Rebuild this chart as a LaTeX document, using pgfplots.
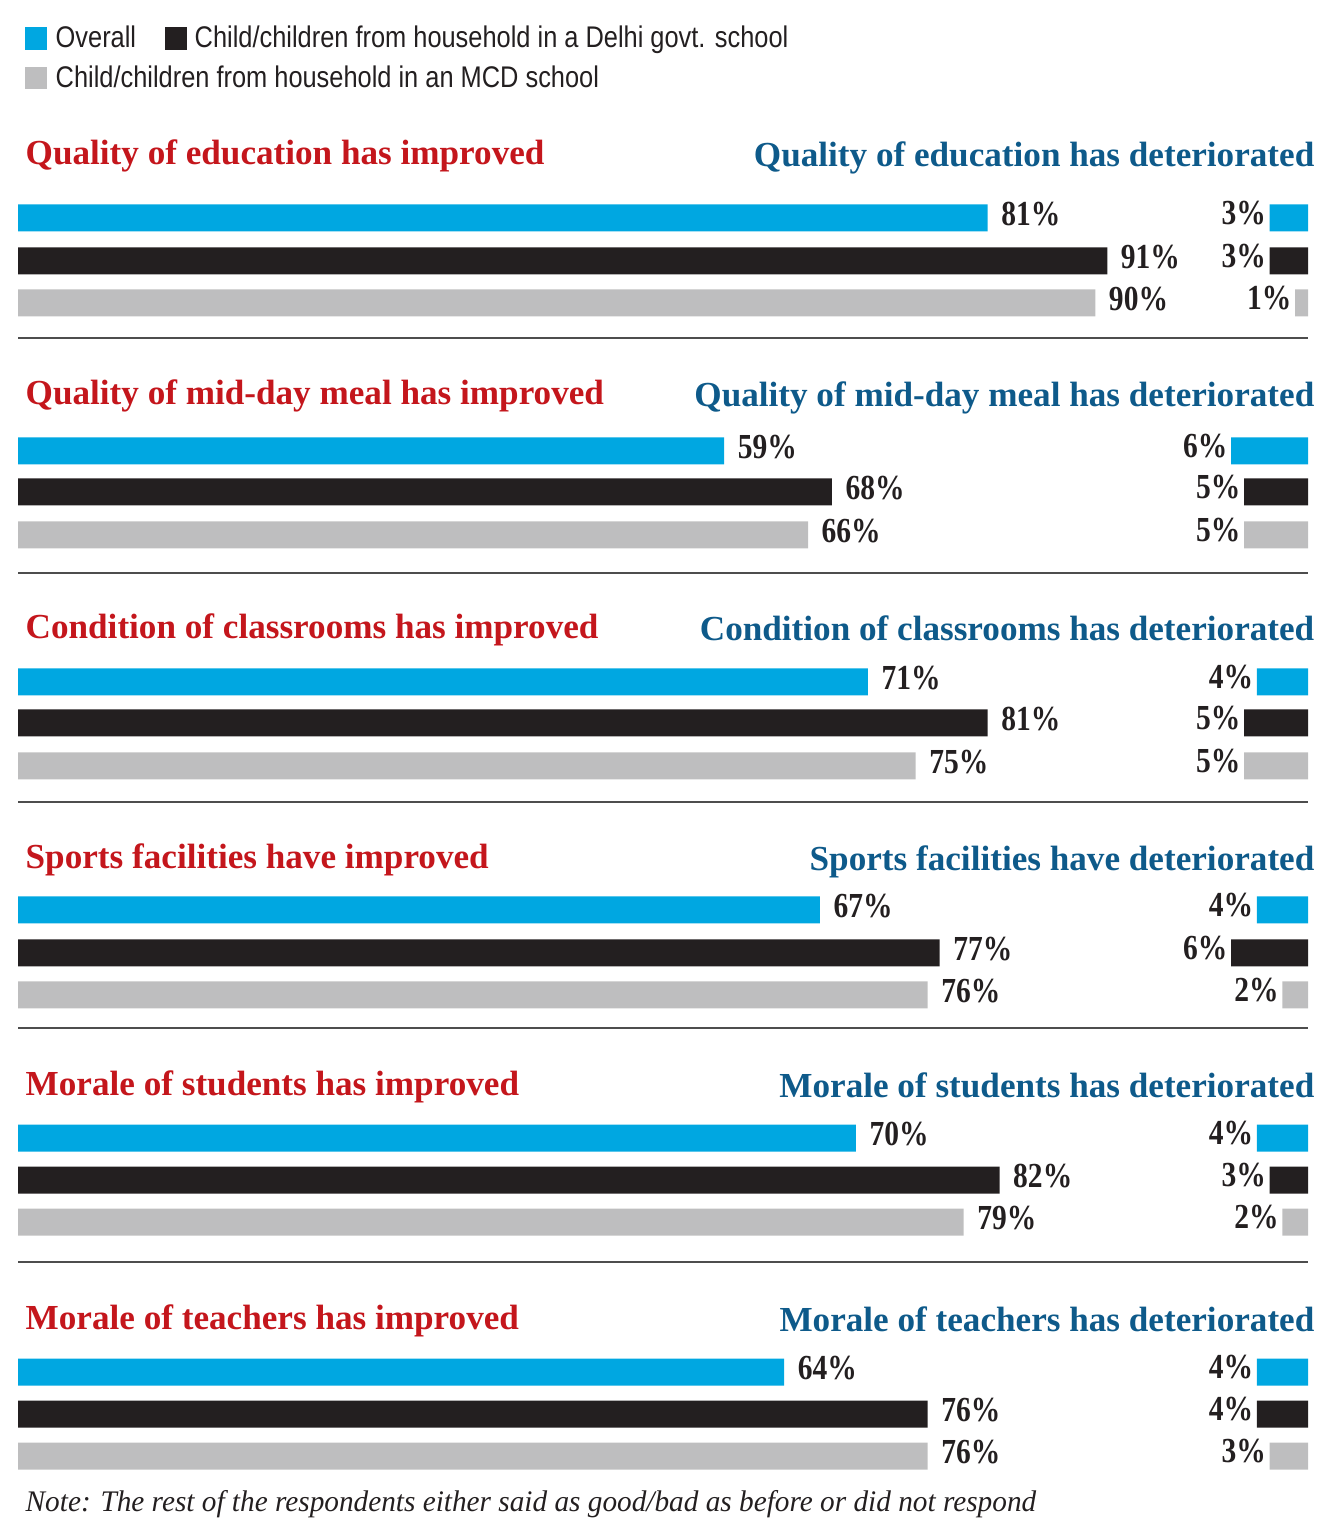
\documentclass[border=0pt]{standalone}
\usepackage{pgfplots}
\usepackage{pgfplotstable}
\pgfplotsset{compat=1.18}
\usepackage{fontspec}
\setmainfont{Liberation Serif}
\newfontfamily\legfont{Liberation Sans}[FakeStretch=0.85]
\newfontfamily\notefont{Liberation Serif}[FakeStretch=0.98]
\newfontfamily\labfont{Liberation Serif}[FakeStretch=0.84]

\definecolor{cBlue}{HTML}{00A7E1}
\definecolor{cBlack}{HTML}{231F20}
\definecolor{cGray}{HTML}{BEBEBF}
\definecolor{cRed}{HTML}{C4161C}
\definecolor{cNavy}{HTML}{0E5A8A}
\definecolor{cSep}{HTML}{4D4D4D}

% pos = vertical position of the bar (0 = top of the chart), imp = improved, det = deteriorated
\pgfplotstableread{
pos  imp det
218  81  3
451  59  6
682  71  4
910  67  4
1138 70  4
1372 64  4
}\overall
\pgfplotstableread{
pos  imp det
261  91  3
492  68  5
723  81  5
953  77  6
1180 82  3
1414 76  4
}\delhi
\pgfplotstableread{
pos  imp det
303  90  1
535  66  5
766  75  5
995  76  2
1222 79  2
1456 76  3
}\mcd

\pgfplotsset{
  panel/.style={
    hide axis, scale only axis,
    width=132.2mm, height=152.9mm,
    at={(0,0)}, anchor=south west,
    ymin=0, ymax=1529, y dir=reverse,
    clip=false, xbar, bar width=27,
    /pgf/number format/assume math mode=true,
    nodes near coords={\pgfmathprintnumber{\pgfplotspointmeta}\%},
    every node near coord/.append style={font=\labfont\bfseries\fontsize{10}{12}\selectfont, text=cBlack, inner xsep=0.3mm},
  },
}

\begin{document}
\begin{tikzpicture}
\begin{axis}[panel, xmin=-1.504, xmax=108.94,
  every node near coord/.append style={xshift=1.0mm, yshift=0.4mm}]
  \addplot[fill=cBlue, draw=none, bar shift=0pt] table[x=imp, y=pos] {\overall};
  \addplot[fill=cBlack, draw=none, bar shift=0pt] table[x=imp, y=pos] {\delhi};
  \addplot[fill=cGray, draw=none, bar shift=0pt] table[x=imp, y=pos] {\mcd};
  \coordinate (TL) at (axis description cs:0,1);
\end{axis}
\begin{axis}[panel, x dir=reverse, xmin=-1.094, xmax=102.19,
  nodes near coords align={anchor=east},
  every node near coord/.append style={yshift=0.5mm}]
  \addplot[fill=cBlue, draw=none, bar shift=0pt] table[x=det, y=pos] {\overall};
  \addplot[fill=cBlack, draw=none, bar shift=0pt] table[x=det, y=pos] {\delhi};
  \addplot[fill=cGray, draw=none, bar shift=0pt] table[x=det, y=pos] {\mcd};
\end{axis}

\begin{scope}[shift={(TL)}, x=0.1mm, y=-0.1mm]
  \path (0,0) rectangle (1322,1529);
  % legend
  \begin{scope}[every node/.style={anchor=base west, inner sep=0, text=cBlack,
      font=\legfont\fontsize{8.5}{10}\selectfont}]
    \fill[cBlue] (25,27) rectangle (47,50);
    \node at (55,48) {Overall};
    \fill[cBlack] (165,27) rectangle (187,50);
    \node at (194,48) {Child/children from household in a Delhi govt. school};
    \fill[cGray] (25,67) rectangle (47,89);
    \node at (55,88) {Child/children from household in an MCD school};
  \end{scope}
  % panel headings
  \begin{scope}[every node/.style={inner sep=0, font=\bfseries\fontsize{10}{12}\selectfont}]
    \foreach \yb/\a/\b in {
      165/Quality of education has improved/Quality of education has deteriorated,
      405/Quality of mid-day meal has improved/Quality of mid-day meal has deteriorated,
      639/Condition of classrooms has improved/Condition of classrooms has deteriorated,
      869/Sports facilities have improved/Sports facilities have deteriorated,
      1096/Morale of students has improved/Morale of students has deteriorated,
      1330/Morale of teachers has improved/Morale of teachers has deteriorated} {
      \node[anchor=base west, text=cRed] at (25,\yb) {\a};
      \node[anchor=base east, text=cNavy] at (1315,\yb+2) {\b};
    }
  \end{scope}
  % separators
  \foreach \ys in {338,573,802,1028,1262}
    \draw[cSep, line width=0.25mm] (18,\ys) -- (1308,\ys);
  % note
  \node[anchor=base west, inner sep=0, text=cBlack, font=\notefont\itshape\fontsize{8.5}{10}\selectfont]
    at (25,1512) {Note: The rest of the respondents either said as good/bad as before or did not respond};
\end{scope}
\end{tikzpicture}
\end{document}
